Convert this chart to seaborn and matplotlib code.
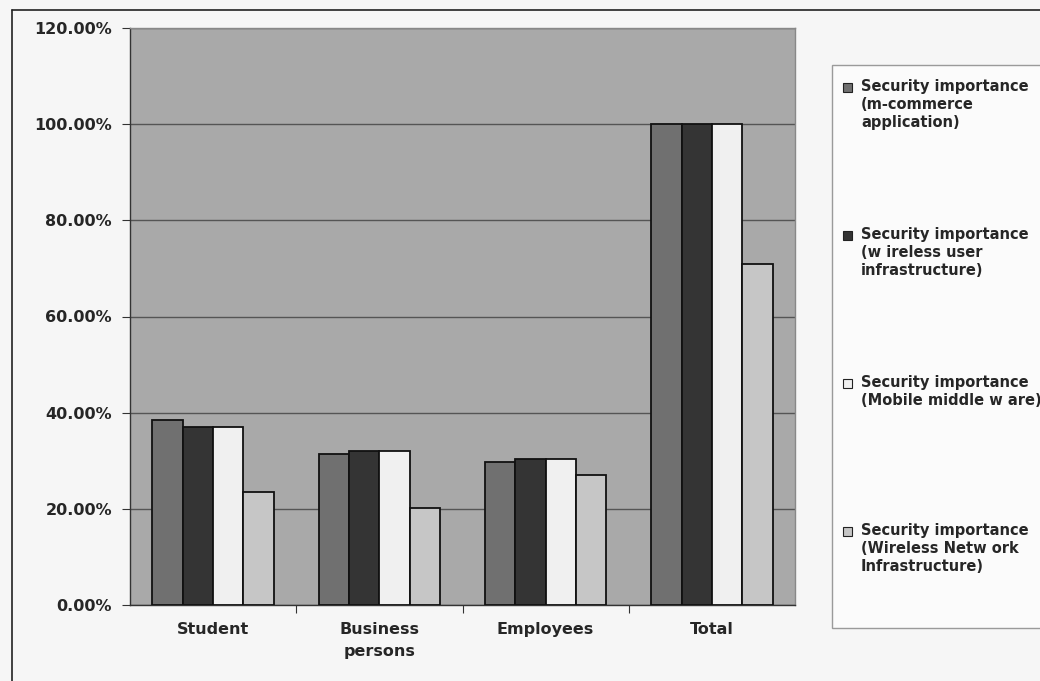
import numpy as np
import pandas as pd
import matplotlib
matplotlib.use("Agg")
import matplotlib.pyplot as plt
from matplotlib.patches import Rectangle
from matplotlib.ticker import FuncFormatter, FixedLocator
import seaborn as sns

# Survey groups and the share (%) rating each security layer as important
groups = ["Student", "Business\npersons", "Employees", "Total"]
series = [
    "Security importance\n(m-commerce\napplication)",
    "Security importance\n(w ireless user\ninfrastructure)",
    "Security importance\n(Mobile middle w are)",
    "Security importance\n(Wireless Netw ork\nInfrastructure)",
]
mcommerce_app = [38.5, 31.4, 29.7, 100.0]
wireless_user = [37.0, 32.0, 30.4, 100.0]
mobile_middleware = [37.0, 32.0, 30.4, 100.0]
wireless_network = [23.5, 20.2, 27.0, 70.9]
y_ticks = [0, 20, 40, 60, 80, 100, 120]

bar_colors = ["#707070", "#343434", "#f0f0f0", "#c6c6c6"]

df = pd.DataFrame({
    "group": groups * 4,
    "series": np.repeat(series, len(groups)),
    "value": mcommerce_app + wireless_user + mobile_middleware + wireless_network,
})

sns.set_theme(style="white")
plt.rcParams["font.family"] = ["DejaVu Sans"]
text_color = "#262626"

fig = plt.figure(figsize=(10.4, 6.81), dpi=100)
fig.patch.set_facecolor("#f6f6f6")
ax = fig.add_axes([130 / 1040, 1 - 605 / 681, 665 / 1040, 577 / 681])
ax.set_facecolor("#a9a9a9")

sns.barplot(data=df, x="group", y="value", hue="series", order=groups,
            hue_order=series, palette=bar_colors, width=0.73, gap=0,
            edgecolor="#111111", linewidth=1.3, saturation=1,
            legend=False, ax=ax, zorder=3)

ax.set_ylim(0, 120)
ax.set_xlim(-0.5, len(groups) - 0.5)
ax.yaxis.set_major_locator(FixedLocator(y_ticks))
ax.yaxis.set_major_formatter(FuncFormatter(lambda v, _: f"{v:.2f}%"))
ax.grid(axis="y", color="#555555", linewidth=1.0, zorder=0)
ax.set_axisbelow(True)
ax.set_xlabel("")
ax.set_ylabel("")

for side in ["top", "right"]:
    ax.spines[side].set_color("#888888")
    ax.spines[side].set_linewidth(1.0)
for side in ["left", "bottom"]:
    ax.spines[side].set_color("#333333")
    ax.spines[side].set_linewidth(1.0)

ax.tick_params(axis="y", which="major", left=True, length=6, width=0.8,
               color="#333333", labelsize=11.5, pad=7, labelcolor=text_color)
ax.set_xticks(range(len(groups)))
ax.set_xticklabels(groups, fontsize=11.5, fontweight="bold", color=text_color)
ax.tick_params(axis="x", which="major", length=0, pad=12)
ax.set_xticks([0.5, 1.5, 2.5], minor=True)
ax.tick_params(axis="x", which="minor", bottom=True, length=6, width=0.8,
               color="#333333")
for lbl in ax.get_xticklabels():
    lbl.set_linespacing(1.65)
for lbl in ax.get_yticklabels():
    lbl.set_fontweight("bold")

# Outer chart frame
fig.add_artist(plt.Line2D([12 / 1040, 12 / 1040], [0, 1 - 10 / 681],
                          transform=fig.transFigure, color="#222222", lw=1.2))
fig.add_artist(plt.Line2D([12 / 1040, 1], [1 - 10 / 681, 1 - 10 / 681],
                          transform=fig.transFigure, color="#222222", lw=1.2))

# Legend panel
W, H = 1040, 681
fig.add_artist(Rectangle((832 / W, 1 - 628 / H), (1040 - 832) / W + 0.01,
                         (628 - 65) / H, transform=fig.transFigure,
                         facecolor="#fbfbfb", edgecolor="#9a9a9a", lw=1.0))
entry_tops = [88, 236, 384, 532]
for label, color, top in zip(series, bar_colors, entry_tops):
    fig.add_artist(Rectangle((843 / W, 1 - (top + 4) / H), 9 / W, 9 / H,
                             transform=fig.transFigure, facecolor=color,
                             edgecolor="#222222", lw=0.8))
    fig.text(861 / W, 1 - (top - 9) / H, label, fontsize=10.5,
             fontweight="bold", color=text_color, va="top", ha="left",
             linespacing=1.25)

fig.savefig("out.png", dpi=100, facecolor=fig.get_facecolor())
